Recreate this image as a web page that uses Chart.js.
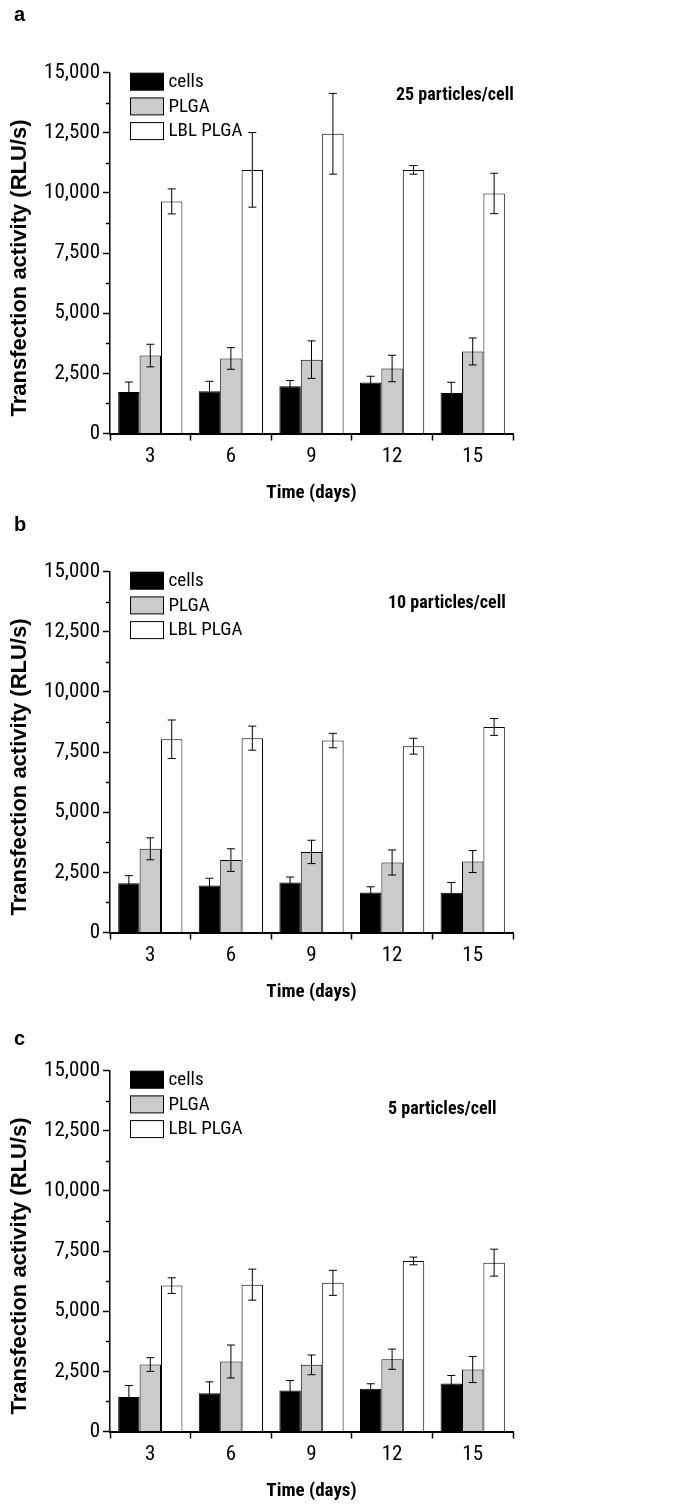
<!DOCTYPE html>
<html lang="en">
<head>
<meta charset="UTF-8">
<title>Transfection activity</title>
<script src="https://cdn.jsdelivr.net/npm/chart.js"></script>
<style>
  body { margin: 0; background: #fff; }
  canvas.panel { position: absolute; left: 0; }
</style>
</head>
<body>
<canvas id="chartA" class="panel" width="679" height="510" style="top:0px"></canvas>
<canvas id="chartB" class="panel" width="679" height="510" style="top:499px"></canvas>
<canvas id="chartC" class="panel" width="679" height="510" style="top:998px"></canvas>
<script>
// x categories (days) and series names
const days = ['3', '6', '9', '12', '15'];
const seriesNames = ['cells', 'PLGA', 'LBL PLGA'];
const panelLetters = ['a', 'b', 'c'];
const doseLabels = ['25 particles/cell', '10 particles/cell', '5 particles/cell'];
const yTicks = [0, 2500, 5000, 7500, 10000, 12500, 15000];

// panel a - 25 particles/cell
const cellsA = [1730, 1760, 1960, 2120, 1680];
const cellsAErr = [410, 410, 240, 260, 450];
const plgaA = [3240, 3120, 3070, 2700, 3410];
const plgaAErr = [470, 450, 780, 550, 560];
const lblA = [9650, 10960, 12460, 10960, 9980];
const lblAErr = [520, 1550, 1680, 180, 840];

// panel b - 10 particles/cell
const cellsB = [2050, 1950, 2080, 1660, 1650];
const cellsBErr = [315, 305, 225, 240, 430];
const plgaB = [3480, 3010, 3350, 2910, 2950];
const plgaBErr = [457, 470, 485, 520, 457];
const lblB = [8035, 8080, 7980, 7745, 8545];
const lblBErr = [800, 500, 300, 330, 350];

// panel c - 5 particles/cell
const cellsC = [1430, 1595, 1705, 1775, 1995];
const cellsCErr = [480, 470, 415, 210, 335];
const plgaC = [2785, 2910, 2770, 3005, 2575];
const plgaCErr = [285, 685, 410, 420, 540];
const lblC = [6065, 6105, 6180, 7090, 7020];
const lblCErr = [325, 645, 520, 160, 560];

const narrow = '"Roboto Condensed", "Liberation Sans Narrow", "Liberation Sans", Arial, sans-serif';
const wide = '"Liberation Sans", Arial, sans-serif';
const fills = ['#000000', '#cbcbcb', '#ffffff'];

// error bars, minor ticks, legend and the free texts
const extrasPlugin = {
    id: 'extras',
    afterDatasetsDraw(chart, args, opts) {
        const ctx = chart.ctx;
        const y = chart.scales.y;
        const area = chart.chartArea;
        ctx.save();
        ctx.strokeStyle = '#000';
        ctx.lineWidth = 1;
        chart.data.datasets.forEach((ds, i) => {
            const meta = chart.getDatasetMeta(i);
            meta.data.forEach((bar, j) => {
                const err = ds.errors[j];
                const yTop = y.getPixelForValue(ds.data[j] + err);
                const yBot = y.getPixelForValue(ds.data[j] - err);
                ctx.beginPath();
                ctx.moveTo(bar.x, yTop); ctx.lineTo(bar.x, yBot);
                ctx.moveTo(bar.x - 4, yTop); ctx.lineTo(bar.x + 4, yTop);
                ctx.moveTo(bar.x - 4, yBot); ctx.lineTo(bar.x + 4, yBot);
                ctx.stroke();
            });
        });

        // minor ticks on y
        ctx.lineWidth = 1.5;
        for (let v = 1250; v < 15000; v += 2500) {
            const py = Math.round(y.getPixelForValue(v)) + 0.5;
            ctx.beginPath();
            ctx.moveTo(area.left - 4, py); ctx.lineTo(area.left, py);
            ctx.stroke();
        }

        // legend
        ctx.lineWidth = 1;
        ctx.font = '19px ' + narrow;
        ctx.textBaseline = 'middle';
        ctx.textAlign = 'left';
        chart.data.datasets.forEach((ds, i) => {
            const bx = area.left + 20.5, by = area.top + i * 24.7 + 0.5;
            ctx.fillStyle = ds.backgroundColor;
            ctx.fillRect(bx, by, 33, 17);
            ctx.strokeRect(bx, by, 33, 17);
            ctx.fillStyle = '#000';
            ctx.fillText(ds.label, bx + 38, by + 9);
        });

        // dose label
        ctx.font = 'bold 18px ' + narrow;
        ctx.fillText(opts.dose, opts.doseX, opts.doseY);

        // panel letter
        ctx.font = 'bold 20px ' + wide;
        ctx.fillText(opts.letter, 14, opts.letterY);

        // y title
        ctx.save();
        ctx.translate(20, 268);
        ctx.rotate(-Math.PI / 2);
        ctx.textAlign = 'center';
        ctx.font = 'bold 22px ' + wide;
        ctx.fillText('Transfection activity (RLU/s)', 0, 0);
        ctx.restore();

        ctx.restore();
    }
};

function makePanel(id, k, cells, cellsErr, plga, plgaErr, lbl, lblErr, place) {
    const values = [cells, plga, lbl];
    const errs = [cellsErr, plgaErr, lblErr];
    new Chart(document.getElementById(id), {
        type: 'bar',
        data: {
            labels: days,
            datasets: seriesNames.map((name, i) => ({
                label: name,
                data: values[i],
                errors: errs[i],
                backgroundColor: fills[i],
                borderColor: '#000',
                borderWidth: 1,
                borderSkipped: 'bottom',
                barPercentage: 1.0,
                categoryPercentage: 0.797
            }))
        },
        options: {
            responsive: false,
            animation: false,
            devicePixelRatio: 1,
            layout: { padding: { top: 72.7, right: 166, left: 0, bottom: 0 } },
            plugins: {
                legend: { display: false },
                tooltip: { enabled: false },
                extras: { letter: panelLetters[k], dose: doseLabels[k], doseX: place.doseX, doseY: place.doseY, letterY: place.letterY }
            },
            scales: {
                x: {
                    grid: { display: true, offset: true, drawOnChartArea: false, tickLength: 7, tickColor: '#000', tickWidth: 1.5 },
                    border: { display: true, color: '#000', width: 2 },
                    ticks: { color: '#000', padding: 4, font: { family: narrow, size: 21 } },
                    title: { display: true, text: 'Time (days)', color: '#000', padding: { top: 0, bottom: 5 }, font: { family: narrow, size: 19, weight: 'bold' } },
                    afterFit(scale) { scale.height = 76.5; }
                },
                y: {
                    min: 0,
                    max: 15000,
                    afterBuildTicks(scale) { scale.ticks = yTicks.map(v => ({ value: v })); },
                    grid: { display: true, drawOnChartArea: false, tickLength: 7, tickColor: '#000', tickWidth: 1.5 },
                    border: { display: true, color: '#000', width: 1.5 },
                    ticks: {
                        color: '#000', padding: 3, font: { family: narrow, size: 21 },
                        callback: v => v.toLocaleString('en-US')
                    },
                    afterFit(scale) { scale.width = 110; }
                }
            }
        },
        plugins: [extrasPlugin]
    });
}

makePanel('chartA', 0, cellsA, cellsAErr, plgaA, plgaAErr, lblA, lblAErr, { doseX: 396, doseY: 95, letterY: 15 });
makePanel('chartB', 1, cellsB, cellsBErr, plgaB, plgaBErr, lblB, lblBErr, { doseX: 388, doseY: 104, letterY: 26 });
makePanel('chartC', 2, cellsC, cellsCErr, plgaC, plgaCErr, lblC, lblCErr, { doseX: 388, doseY: 111, letterY: 41 });
</script>
</body>
</html>
